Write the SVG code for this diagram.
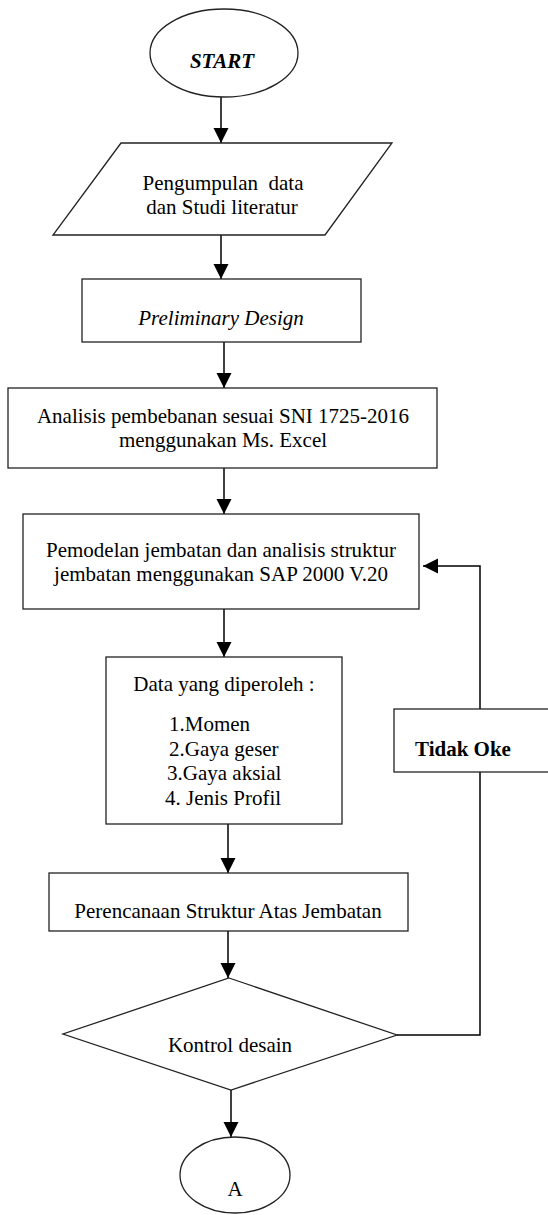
<svg xmlns="http://www.w3.org/2000/svg" width="548" height="1215" viewBox="0 0 548 1215">
<style>
.shape{fill:#fff;stroke:#222;stroke-width:1.3}
.t{font-family:"Liberation Serif","Times New Roman",serif;font-size:21px;fill:#000;text-anchor:middle}
.s{text-anchor:start}
.conn{fill:none;stroke:#000;stroke-width:1.5}
</style>
<defs>
<marker id="ah" markerUnits="userSpaceOnUse" markerWidth="16" markerHeight="16" refX="15" refY="7.5" orient="auto">
<path d="M0,0 L15,7.5 L0,15 z" fill="#000"/>
</marker>
</defs>
<rect width="548" height="1215" fill="#fff"/>
<g id="connectors">
<path class="conn" d="M221,97 V143" marker-end="url(#ah)"/>
<path class="conn" d="M221,235 V279" marker-end="url(#ah)"/>
<path class="conn" d="M224,342 V388" marker-end="url(#ah)"/>
<path class="conn" d="M224,468 V514" marker-end="url(#ah)"/>
<path class="conn" d="M224,609 V657" marker-end="url(#ah)"/>
<path class="conn" d="M228,824 V873" marker-end="url(#ah)"/>
<path class="conn" d="M228,931 V978" marker-end="url(#ah)"/>
<path class="conn" d="M231,1090 V1137" marker-end="url(#ah)"/>
<path class="conn" d="M397,1035 H480 V772"/>
<path class="conn" d="M480,709 V566 H423" marker-end="url(#ah)"/>
</g>
<g id="start">
<ellipse class="shape" cx="224" cy="53" rx="74" ry="44"/>
<text class="t" x="222" y="68" font-weight="bold" font-style="italic" font-size="22">START</text>
</g>
<g id="pengumpulan">
<polygon class="shape" points="121,143 392,143 325,235 53,235"/>
<text class="t" x="223" y="190" style="white-space:pre">Pengumpulan  data</text>
<text class="t" x="222" y="214">dan Studi literatur</text>
</g>
<g id="preliminary">
<rect class="shape" x="82" y="279" width="279" height="63"/>
<text class="t" x="221" y="325" font-style="italic">Preliminary Design</text>
</g>
<g id="analisis">
<rect class="shape" x="8" y="388" width="429" height="80"/>
<text class="t" x="223" y="423">Analisis pembebanan sesuai SNI 1725-2016</text>
<text class="t" x="223" y="447">menggunakan Ms. Excel</text>
</g>
<g id="pemodelan">
<rect class="shape" x="23" y="514" width="396" height="95"/>
<text class="t" x="221" y="557">Pemodelan jembatan dan analisis struktur</text>
<text class="t" x="221" y="581">jembatan menggunakan SAP 2000 V.20</text>
</g>
<g id="data">
<rect class="shape" x="106" y="657" width="236" height="167"/>
<text class="t" x="224" y="691">Data yang diperoleh :</text>
<text class="t s" x="169" y="731">1.Momen</text>
<text class="t s" x="169" y="756">2.Gaya geser</text>
<text class="t s" x="167" y="780">3.Gaya aksial</text>
<text class="t s" x="165" y="805">4. Jenis Profil</text>
</g>
<g id="perencanaan">
<rect class="shape" x="49" y="873" width="359" height="58"/>
<text class="t" x="228" y="918">Perencanaan Struktur Atas Jembatan</text>
</g>
<g id="kontrol">
<polygon class="shape" points="229,978 397,1035 231,1090 63,1034"/>
<text class="t" x="230" y="1052">Kontrol desain</text>
</g>
<g id="tidak-oke">
<rect class="shape" x="394" y="709" width="160" height="63"/>
<text class="t s" x="415" y="756" font-weight="bold">Tidak Oke</text>
</g>
<g id="a">
<ellipse class="shape" cx="235" cy="1175" rx="55" ry="38"/>
<text class="t" x="235" y="1196">A</text>
</g>
</svg>
